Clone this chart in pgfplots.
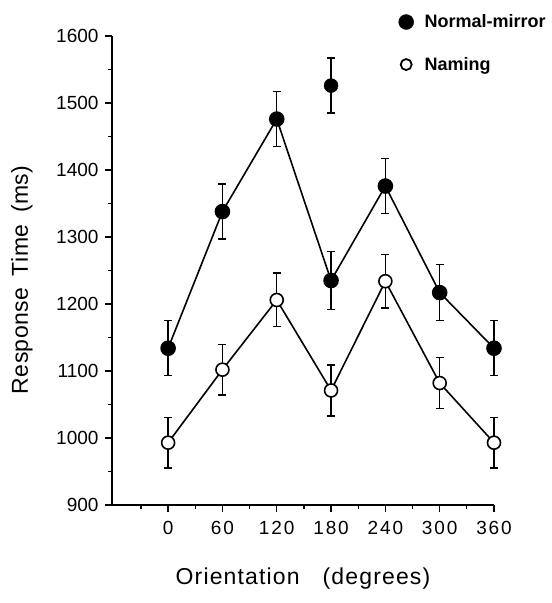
\documentclass[border=0pt]{standalone}
\usepackage{fontspec}
\setmainfont{Liberation Sans}
\usepackage{pgfplots}
\pgfplotsset{compat=1.18}
\begin{document}
\begin{tikzpicture}
\useasboundingbox (-112pt,-98pt) rectangle (440pt,505pt);
\begin{axis}[
  at={(0,0)}, anchor=south west,
  scale only axis, width=382pt, height=469pt,
  xmin=-62, xmax=360, ymin=900, ymax=1600,
  axis x line*=bottom, axis y line*=left,
  axis line style={line width=1.5pt, -},
  xtick={0,60,...,360}, minor xtick={-30,30,90,...,330},
  ytick={900,1000,...,1600}, minor ytick={950,1050,...,1550},
  tick style={line width=1.3pt, black},
  major tick length=7pt, minor tick length=4pt,
  tick align=outside,
  /pgf/number format/assume math mode=true,
  /pgf/number format/1000 sep={},
  yticklabel style={font=\fontsize{19}{19}\selectfont, xshift=-3pt},
  xticklabel style={font=\fontsize{19}{19}\selectfont\addfontfeature{LetterSpace=10}, yshift=-6pt},
  xlabel={\addfontfeature{LetterSpace=5}Orientation\hspace{1.0em}(degrees)},
  ylabel={\addfontfeature{LetterSpace=2}Response\hspace{0.5em}Time\hspace{0.5em}(ms)},
  label style={font=\fontsize{23}{23}\selectfont},
  xlabel style={at={(axis description cs:0.5,-0.156)}, anchor=center},
  ylabel style={at={(axis description cs:-0.236,0.48)}, anchor=center},
  legend style={at={(axis description cs:0.75,1.05)}, anchor=north west, draw=none, fill=none,
    font=\fontsize{18}{18}\selectfont\bfseries, row sep=24pt, inner sep=0pt},
  legend cell align=left,
  error bars/error bar style={line width=1.4pt},
  error bars/error mark options={rotate=90, mark size=4pt, line width=1.4pt},
  clip=false,
]
\addlegendimage{only marks, mark=*, mark size=7.5pt, black}
\addlegendentry{\hspace{9pt}Normal-mirror}
\addlegendimage{only marks, mark=*, mark size=5.5pt, mark options={fill=white, draw=black, line width=1.8pt}}
\addlegendentry{\hspace{9pt}Naming}

\addplot[black, line width=1.6pt, mark=*, mark size=7pt, forget plot,
  error bars/.cd, y dir=both, y explicit]
  coordinates {
  (0,1134) +- (0,41)
  (60,1338) +- (0,41)
  (120,1476) +- (0,41)
  (180,1235) +- (0,43)
  (240,1376) +- (0,41)
  (300,1217) +- (0,42)
  (360,1134) +- (0,41)
  };
\addplot[black, only marks, mark=*, mark size=7pt, forget plot,
  error bars/.cd, y dir=both, y explicit]
  coordinates {
  (180,1526) +- (0,41)
  };
\addplot[black, line width=1.6pt, mark=*, mark size=6.5pt, forget plot,
  mark options={fill=white, draw=black, line width=1.6pt},
  error bars/.cd, y dir=both, y explicit]
  coordinates {
  (0,993) +- (0,38)
  (60,1102) +- (0,38)
  (120,1206) +- (0,40)
  (180,1071) +- (0,38)
  (240,1234) +- (0,40)
  (300,1082) +- (0,38)
  (360,993) +- (0,38)
  };
\end{axis}
\end{tikzpicture}
\end{document}
